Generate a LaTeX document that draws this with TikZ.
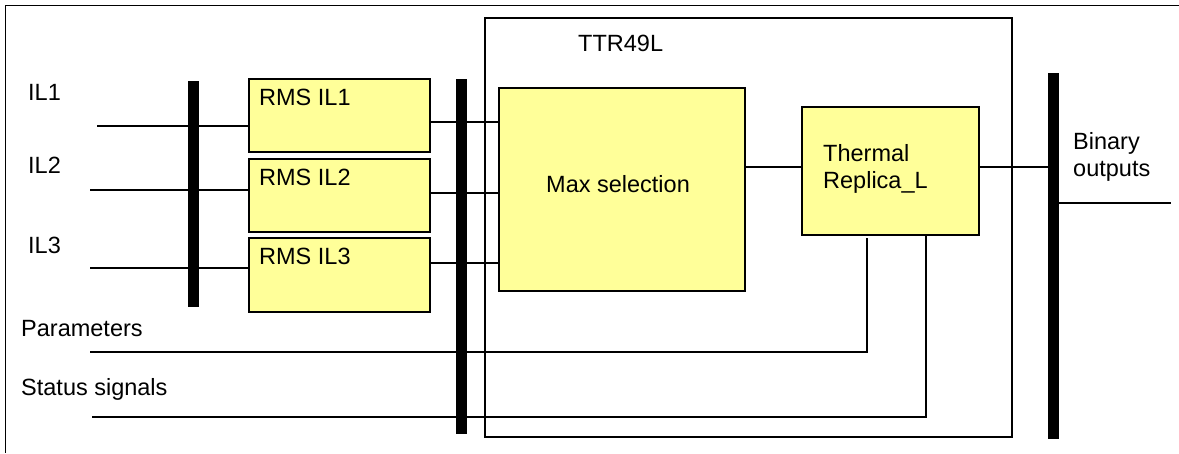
\documentclass[tikz,border=0pt]{standalone}
\usepackage{fontspec}
\setmainfont{Liberation Sans}
\definecolor{boxyellow}{RGB}{255,255,153}
\begin{document}
\begin{tikzpicture}[x=1pt,y=-1pt,font=\fontsize{23.5}{27}\selectfont,
  fbox/.style={draw, line width=2pt, fill=boxyellow, inner sep=0pt},
  bar/.style={fill=black, inner sep=0pt, minimum width=11pt},
  txt/.style={anchor=base west, inner sep=0pt},
  lbl/.style={anchor=north west, inner sep=0pt, align=left},
  wire/.style={line width=1.3pt}]
  \useasboundingbox (0,0) rectangle (1179,453);
  % Frame
  \draw[wire] (1179,5.5) -- (5.5,5.5) -- (5.5,453);
  % Function block
  \node[draw, line width=1.5pt, minimum width=527pt, minimum height=419pt] (ttr) at (748.5,227.5) {};
  \node[txt] (ttrname) at (578,51) {TTR49L};
  % Bars
  \node[bar, minimum height=226pt] (bar1) at (193.5,194) {};
  \node[bar, minimum height=355pt] (bar2) at (461.5,256.5) {};
  \node[bar, minimum height=366pt] (bar3) at (1053.5,256) {};
  % Blocks
  \node[fbox, minimum width=181pt, minimum height=73pt] (rms1) at (339.5,115.5) {};
  \node[fbox, minimum width=181pt, minimum height=73pt] (rms2) at (339.5,195.5) {};
  \node[fbox, minimum width=181pt, minimum height=74pt] (rms3) at (339.5,275) {};
  \node[fbox, minimum width=246pt, minimum height=203pt] (max) at (622,189.5) {};
  \node[fbox, minimum width=177pt, minimum height=128pt] (th) at (890.5,171) {};
  \node[lbl] (rms1txt) at ([xshift=11pt,yshift=-11pt]rms1.north west) {RMS IL1};
  \node[lbl] (rms2txt) at ([xshift=11pt,yshift=-11pt]rms2.north west) {RMS IL2};
  \node[lbl] (rms3txt) at ([xshift=11pt,yshift=-11pt]rms3.north west) {RMS IL3};
  \node[lbl] (maxtxt) at ([xshift=48pt,yshift=-88pt]max.north west) {Max selection};
  \node[lbl] (thtxt) at ([xshift=22pt,yshift=-38pt]th.north west) {Thermal\\Replica\_L};
  % Inputs
  \node[txt] (il1txt) at (28,100) {IL1};
  \node[txt] (il2txt) at (28,173) {IL2};
  \node[txt] (il3txt) at (28,253) {IL3};
  \node[txt] (partxt) at (21,336) {Parameters};
  \node[txt] (stattxt) at (21,395) {Status signals};
  \coordinate (il1) at (97,126);
  \coordinate (il2) at (90,190);
  \coordinate (il3) at (90,268);
  \draw[wire] (il1) -- (il1 -| rms1.west);
  \draw[wire] (il2) -- (il2 -| rms2.west);
  \draw[wire] (il3) -- (il3 -| rms3.west);
  % RMS to max selection
  \coordinate (m1) at (499,122);
  \coordinate (m2) at (499,193);
  \coordinate (m3) at (499,263);
  \draw[wire] (m1 -| rms1.east) -- (m1 -| max.west);
  \draw[wire] (m2 -| rms2.east) -- (m2 -| max.west);
  \draw[wire] (m3 -| rms3.east) -- (m3 -| max.west);
  % Thermal replica
  \coordinate (tin) at ([yshift=4pt]th.west);
  \draw[wire] (tin -| max.east) -- (tin);
  \draw[wire] (tin -| th.east) -- (tin -| bar3.west);
  \coordinate (par) at (90,352);
  \coordinate (parin) at (867,238);
  \draw[wire] (par) -| (parin);
  \coordinate (stat) at (92,417);
  \coordinate (statin) at (926,235);
  \draw[wire] (stat) -| (statin);
  % Outputs
  \node[lbl] (bin) at (1073,132) {Binary\\outputs};
  \coordinate (bout) at (1171,203);
  \draw[wire] (bout -| bar3.east) -- (bout);
\end{tikzpicture}
\end{document}
